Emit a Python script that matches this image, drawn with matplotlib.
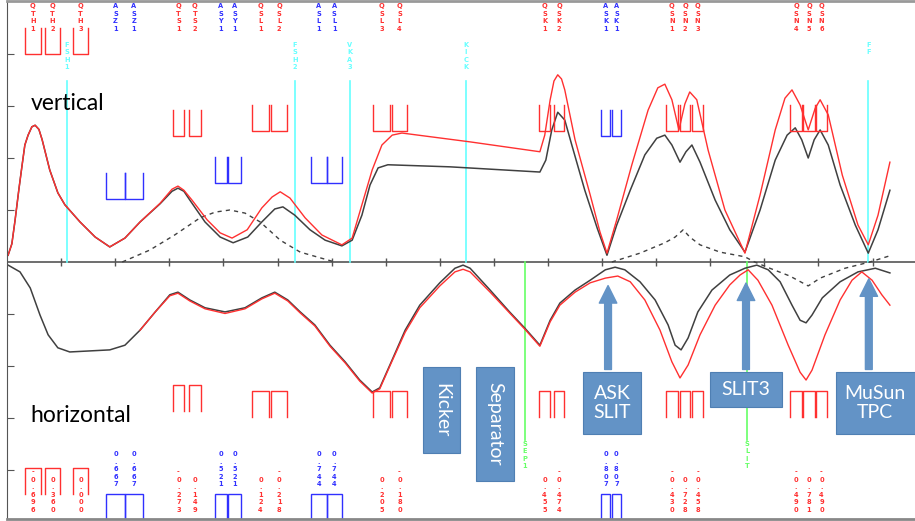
import matplotlib
matplotlib.use("Agg")
import matplotlib.pyplot as plt
from matplotlib.patches import Rectangle

# -----------------------------------
# DATA: beam optics along the beamline
# s in m, beta values in arbitrary units (1 tick = 1 unit)
# -----------------------------------

s_vert = [0.02, 0.09, 0.15, 0.22, 0.28, 0.33, 0.39, 0.46, 0.52, 0.59, 0.65, 0.79, 0.94, 1.07,
          1.35, 1.63, 1.90, 2.18, 2.46, 2.83, 3.05, 3.16, 3.27, 3.38, 3.66, 3.94, 4.18, 4.45,
          4.71, 4.95, 5.10, 5.32, 5.60, 5.88, 6.19, 6.38, 6.56, 6.71, 6.86, 7.04, 8.19, 9.85,
          9.96, 10.07, 10.18, 10.31, 10.44, 10.68, 10.91, 11.09, 11.27, 11.52, 11.79, 12.01,
          12.16, 12.29, 12.44, 12.55, 12.66, 12.81, 13.09, 13.36, 13.64, 13.92, 14.20, 14.42,
          14.57, 14.69, 14.81, 14.92, 15.03, 15.18, 15.40, 15.68, 15.92, 16.10, 16.32]
beta_y_meas = [0.13, 0.35, 0.81, 1.40, 1.87, 2.25, 2.44, 2.60, 2.63, 2.55, 2.35, 1.77, 1.33, 1.10,
               0.77, 0.48, 0.29, 0.46, 0.77, 1.12, 1.36, 1.42, 1.36, 1.19, 0.77, 0.48, 0.37, 0.48,
               0.77, 1.02, 1.06, 0.90, 0.62, 0.42, 0.31, 0.42, 0.90, 1.48, 1.81, 1.87, 1.83, 1.73,
               1.96, 2.54, 2.88, 2.73, 2.25, 1.38, 0.65, 0.13, 0.71, 1.38, 2.06, 2.38,
               2.44, 2.25, 1.92, 2.12, 2.25, 1.92, 1.19, 0.62, 0.19, 1.00, 1.96, 2.44,
               2.58, 2.35, 2.00, 2.35, 2.54, 2.25, 1.48, 0.71, 0.17, 0.62, 1.38]

s_vert_red = [0.02, 0.09, 0.15, 0.22, 0.28, 0.33, 0.39, 0.46, 0.52, 0.59, 0.65, 0.79, 0.94, 1.07,
              1.35, 1.63, 1.90, 2.18, 2.46, 2.83, 3.05, 3.16, 3.27, 3.42, 3.70, 3.94, 4.16, 4.44,
              4.71, 4.90, 5.05, 5.23, 5.51, 5.82, 6.19, 6.38, 6.56, 6.75, 6.93, 7.12, 7.30, 8.56,
              9.85, 9.94, 10.04, 10.11, 10.18, 10.25, 10.31, 10.50, 10.78, 10.96, 11.09, 11.27,
              11.55, 11.85, 12.03, 12.16, 12.29, 12.42, 12.53, 12.62, 12.75, 12.96, 13.27, 13.64,
              13.92, 14.20, 14.38, 14.51, 14.66, 14.81, 14.94, 15.03, 15.18, 15.44, 15.73, 15.92,
              16.10, 16.32]
beta_y_model = [0.13, 0.35, 0.81, 1.40, 1.87, 2.25, 2.44, 2.60, 2.63, 2.55, 2.35, 1.77, 1.33, 1.10,
                0.77, 0.48, 0.29, 0.46, 0.77, 1.13, 1.40, 1.46, 1.38, 1.19, 0.81, 0.56, 0.46, 0.62,
                1.04, 1.25, 1.35, 1.23, 0.85, 0.52, 0.33, 0.46, 1.10, 1.77, 2.25, 2.44, 2.48, 2.31,
                2.12, 2.44, 3.12, 3.48, 3.60, 3.52, 3.31, 2.35, 1.29, 0.58, 0.17, 0.81,
                1.87, 2.92, 3.35, 3.42, 3.12, 2.54, 3.04, 3.27, 3.12, 2.15, 1.00, 0.17,
                1.29, 2.54, 3.15, 3.31, 3.02, 2.54, 2.96, 3.12, 2.83, 1.67, 0.71, 0.33,
                0.90, 1.92]

s_disp = [2.13, 2.64, 3.10, 3.57, 3.85, 4.12, 4.40, 4.68, 5.05, 5.42, 5.79, 6.06]
disp_1 = [0.00, 0.23, 0.52, 0.85, 0.96, 1.00, 0.94, 0.77, 0.42, 0.19, 0.08, 0.00]
s_disp2 = [11.18, 11.70, 12.16, 12.35, 12.50, 12.62, 12.81, 13.18, 13.64, 13.82, 14.10, 14.47,
           14.81, 15.03, 15.49, 15.95, 16.32]
disp_2 = [0.00, 0.17, 0.37, 0.48, 0.62, 0.48, 0.33, 0.19, 0.10, 0.00, -0.12, -0.27,
          -0.46, -0.31, -0.12, 0.00, 0.12]

s_hor = [0.02, 0.24, 0.43, 0.61, 0.76, 0.94, 1.16, 1.53, 1.90, 2.18, 2.46, 2.74, 3.01, 3.16,
         3.38, 3.66, 4.03, 4.40, 4.71, 4.95, 5.19, 5.42, 5.69, 5.97, 6.25, 6.52, 6.75, 6.89,
         7.12, 7.36, 7.63, 8.00, 8.28, 8.43, 8.56, 8.93, 9.29, 9.57, 9.85, 10.04, 10.22, 10.50,
         10.78, 11.06, 11.24, 11.42, 11.70, 11.98, 12.22, 12.35, 12.46, 12.59, 12.77, 13.03,
         13.36, 13.64, 13.86, 14.07, 14.29, 14.51, 14.66, 14.77, 14.88, 15.07, 15.40, 15.73,
         16.05, 16.32]
beta_x_meas = [0.06, 0.19, 0.50, 1.02, 1.40, 1.65, 1.73, 1.71, 1.69, 1.60, 1.31, 0.96, 0.63, 0.58,
               0.73, 0.88, 0.96, 0.88, 0.69, 0.58, 0.73, 0.96, 1.21, 1.60, 1.92, 2.27, 2.50, 2.42,
               1.88, 1.31, 0.83, 0.40, 0.12, 0.06, 0.12, 0.54, 0.96, 1.27, 1.60, 1.12, 0.79, 0.54,
               0.35, 0.15, 0.10, 0.15, 0.38, 0.73, 1.21, 1.60, 1.69, 1.46, 0.96, 0.54,
               0.25, 0.12, 0.06, 0.15, 0.38, 0.83, 1.12, 1.17, 1.02, 0.69, 0.38, 0.19,
               0.12, 0.21]

s_hor_red = [2.46, 2.74, 3.01, 3.16, 3.38, 3.66, 4.03, 4.40, 4.71, 4.95, 5.19, 5.42, 5.69, 5.97,
             6.25, 6.52, 6.75, 6.89, 7.12, 7.36, 7.63, 8.00, 8.28, 8.43, 8.56, 8.93, 9.29, 9.57,
             9.85, 10.04, 10.22, 10.50, 10.78, 11.06, 11.29, 11.52, 11.79, 12.07, 12.29, 12.44,
             12.59, 12.81, 13.09, 13.36, 13.55, 13.70, 13.88, 14.14, 14.44, 14.66, 14.77, 14.88,
             15.12, 15.40, 15.62, 15.80, 15.99, 16.17, 16.32]
beta_x_model = [1.31, 0.96, 0.65, 0.60, 0.75, 0.90, 0.99, 0.90, 0.71, 0.60, 0.75, 0.98, 1.23, 1.62,
                1.94, 2.29, 2.52, 2.44, 1.90, 1.35, 0.88, 0.46, 0.19, 0.14, 0.19, 0.58, 0.98, 1.29,
                1.62, 1.15, 0.83, 0.58, 0.40, 0.31, 0.27, 0.38, 0.73, 1.31, 1.92, 2.23,
                1.98, 1.40, 0.83, 0.44, 0.25, 0.15, 0.35, 0.83, 1.60, 2.12, 2.27, 2.08,
                1.40, 0.73, 0.35, 0.19, 0.35, 0.63, 0.83]

# beamline elements: name, start, end, strength label
elem_names = ["QTH1", "QTH2", "QTH3", "ASZ1", "ASZ1", "QTS1", "QTS2", "ASY1", "ASY1",
              "QSL1", "QSL2", "ASL1", "ASL1", "QSL3", "QSL4", "QSK1", "QSK2", "ASK1", "ASK1",
              "QSN1", "QSN2", "QSN3", "QSN4", "QSN5", "QSN6"]
elem_start = [0.33, 0.70, 1.22, 1.83, 2.18, 3.07, 3.36, 3.84, 4.09, 4.53, 4.88, 5.62, 5.91,
              6.77, 7.12, 9.83, 10.11, 10.98, 11.18, 12.18, 12.44, 12.66, 14.47, 14.71, 14.95]
elem_end = [0.63, 0.98, 1.50, 2.18, 2.51, 3.27, 3.59, 4.07, 4.33, 4.84, 5.18, 5.91, 6.19,
            7.08, 7.39, 10.04, 10.30, 11.15, 11.35, 12.40, 12.63, 12.87, 14.70, 14.94, 15.16]
elem_strength = ["-0.696", "0.360", "0.000", "0.667", "0.667", "-0.273", "0.149", "0.521",
                 "0.521", "0.124", "-0.218", "0.744", "0.744", "0.205", "-0.180", "0.455",
                 "-0.474", "0.807", "0.807", "-0.430", "0.728", "-0.458", "-0.490", "0.781",
                 "-0.490"]

# markers (monitors, kicker, end points)
mark_names = ["FSH1", "FSH2", "VKA3", "KICK", "FF"]
mark_pos = [1.11, 5.32, 6.34, 8.48, 15.92]
green_names = ["SEP1", "SLIT"]
green_pos = [9.57, 13.68]

# annotation boxes
box_text = ["Kicker", "Separator", "ASK\nSLIT", "SLIT3", "MuSun\nTPC"]
box_left = [7.69, 8.67, 10.65, 12.99, 15.32]
box_right = [8.37, 9.37, 11.72, 14.33, 16.85]
box_top = [-2.02, -2.02, -2.12, -2.12, -2.12]
box_bottom = [-3.67, -4.21, -3.31, -2.79, -3.31]
box_rot = [270, 270, 0, 0, 0]

arrow_pos = [11.11, 13.66, 15.93]
arrow_tip = [-0.40, -0.35, -0.27]

# -----------------------------------
# STYLE
# -----------------------------------
RED = "#ff3030"
BLUE = "#3030ff"
CYAN = "#66ffff"
GREEN = "#66ff66"
GREY = "#404040"
BOXC = "#6393c6"

# symbol levels (top of U in vertical panel, top of the cap in horizontal panel)
sym_top = {"QTH": (4.50, -3.96), "QTS": (2.92, -2.37), "QSL": (3.02, -2.48),
           "QSK": (3.02, -2.48), "QSN": (3.02, -2.48),
           "ASZ": (1.71, None), "ASY": (2.02, None), "ASL": (2.02, None), "ASK": (2.92, None)}
SYM_H = 0.50

fig = plt.figure(figsize=(9.15, 5.21), dpi=100)
ax = fig.add_axes([7 / 915, 2 / 521, 908 / 915, 518 / 521])
ax.set_xlim(0, 908 / 54.1)
ax.set_ylim(-257 / 52, 261 / 52)

ax.spines["right"].set_visible(False)
ax.spines["left"].set_color("#555555")
ax.spines["top"].set_color("#999999")
ax.spines["top"].set_linewidth(2)
ax.spines["bottom"].set_color("#888888")
ax.spines["bottom"].set_linewidth(2)
ax.set_xticks([])
ax.set_yticks([-4, -3, -2, -1, 1, 2, 3, 4])
ax.set_yticklabels([])
ax.tick_params(axis="y", direction="in", length=5, color="#555555")

# midline with s ticks
ax.axhline(0, color="#555555", lw=1.2)
ax.vlines(range(1, 17), -0.08, 0.08, color="#555555", lw=1)

# marker lines
small = dict(fontsize=4.8, linespacing=1.3, family="DejaVu Sans", ha="center",
             fontweight="bold")
for n, p in zip(mark_names, mark_pos):
    ax.plot([p, p], [0, 3.48], color=CYAN, lw=1.2)
    ax.text(p, 4.24, "\n".join(n), color=CYAN, va="top", **small)
for n, p in zip(green_names, green_pos):
    ax.plot([p, p], [0, -3.42], color=GREEN, lw=1.2)
    ax.text(p, -3.44, "\n".join(n), color=GREEN, va="top", **small)

# optics curves
ax.plot(s_disp, disp_1, color=GREY, lw=1, ls=(0, (3, 3)))
ax.plot(s_disp2, disp_2, color=GREY, lw=1, ls=(0, (3, 3)))
ax.plot(s_vert, beta_y_meas, color=GREY, lw=1.1)
ax.plot(s_vert_red, beta_y_model, color=RED, lw=1)
ax.plot(s_hor, [-v for v in beta_x_meas], color=GREY, lw=1.1)
ax.plot(s_hor_red, [-v for v in beta_x_model], color=RED, lw=1)

# elements
for n, a, b, st in zip(elem_names, elem_start, elem_end, elem_strength):
    c = RED if n[0] == "Q" else BLUE
    top_v, top_h = sym_top[n[:3]]
    ax.plot([a, a, b, b], [top_v, top_v - SYM_H, top_v - SYM_H, top_v], color=c, lw=1)
    if top_h is not None:
        ax.plot([a, a, b, b], [top_h - SYM_H, top_h, top_h, top_h - SYM_H], color=c, lw=1)
    else:
        ax.add_patch(Rectangle((a, -4.96), b - a, 0.50, fill=False, ec=c, lw=1))
    m = (a + b) / 2
    ax.text(m, 4.98, "\n".join(n), color=c, va="top", **small)
    if n[0] == "Q":
        ax.text(m, -4.82, "\n".join(st), color=c, va="bottom", **small)
    else:
        ax.text(m, -4.33, "\n".join(st), color=c, va="bottom", **small)

ax.text(0.44, 2.92, "vertical", fontsize=16.5, family="Lato", color="black", va="baseline")
ax.text(0.44, -3.08, "horizontal", fontsize=16.5, family="Lato", color="black",
        va="baseline")

# annotation boxes
for t, l, r, tp, bt, rot in zip(box_text, box_left, box_right, box_top, box_bottom, box_rot):
    ax.add_patch(Rectangle((l, bt), r - l, tp - bt, fc=BOXC, ec="#4f7fb3", lw=0.8,
                           clip_on=False, zorder=5))
    cx = (l + r) / 2 if r < 16.7 else (l + 16.78) / 2
    ax.text(cx, (tp + bt) / 2, t, color="white", fontsize=14, family="Lato",
            ha="center", va="center", rotation=rot, linespacing=1.15, zorder=6)

for p, tip in zip(arrow_pos, arrow_tip):
    ax.annotate("", xy=(p, tip), xytext=(p, -2.12),
                arrowprops=dict(arrowstyle="simple,head_width=0.9,head_length=0.9,tail_width=0.35",
                                color=BOXC, mutation_scale=14), zorder=6)

plt.savefig("out.png", dpi=100)
